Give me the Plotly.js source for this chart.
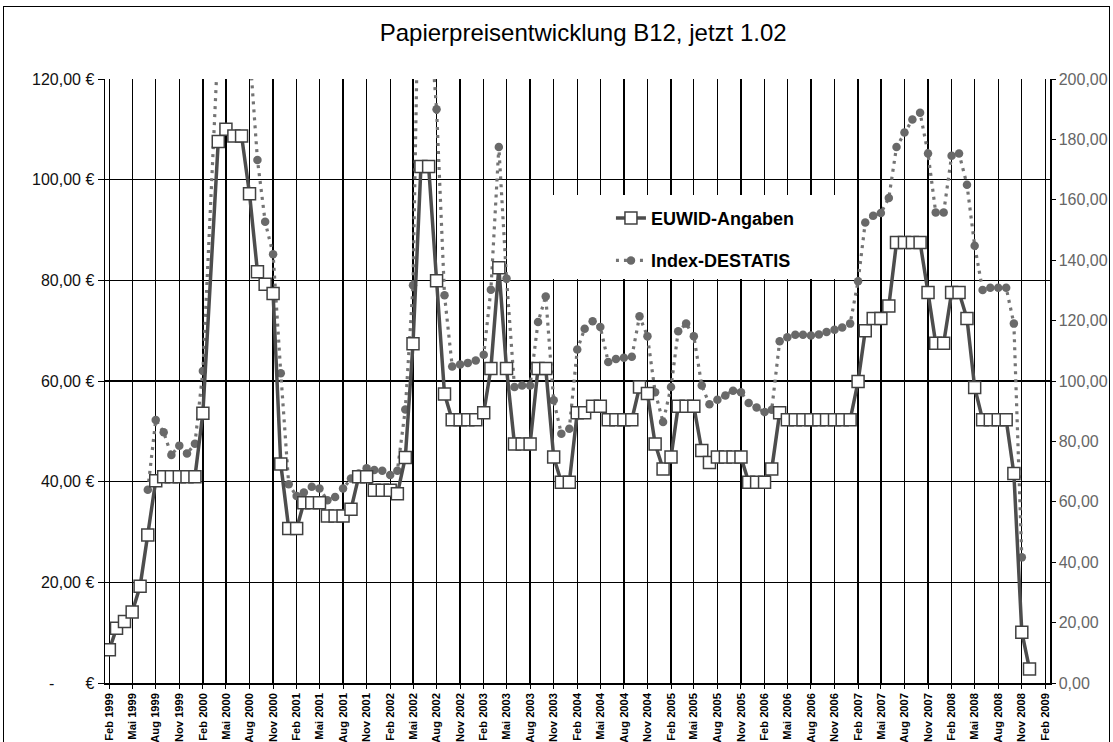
<!DOCTYPE html>
<html><head><meta charset="utf-8">
<script src="https://cdn.plot.ly/plotly-3.0.1.min.js"></script>
<style>
html,body{margin:0;padding:0;background:#fff;overflow:hidden}
#chart{position:absolute;left:0;top:0;width:1113px;height:742px}
#frame{position:absolute;left:3px;top:6px;width:1105px;height:760px;border:1px solid #000;pointer-events:none}
</style></head><body>
<div id="chart"></div><div id="frame"></div>
<script>
const titleText = 'Papierpreisentwicklung B12, jetzt 1.02';

const months = [
'1999-02-01','1999-03-01','1999-04-01','1999-05-01','1999-06-01','1999-07-01','1999-08-01','1999-09-01','1999-10-01','1999-11-01','1999-12-01',
'2000-01-01','2000-02-01','2000-04-01','2000-05-01','2000-06-01','2000-07-01','2000-08-01','2000-09-01','2000-10-01','2000-11-01','2000-12-01',
'2001-01-01','2001-02-01','2001-03-01','2001-04-01','2001-05-01','2001-06-01','2001-07-01','2001-08-01','2001-09-01','2001-10-01','2001-11-01','2001-12-01',
'2002-01-01','2002-02-01','2002-03-01','2002-04-01','2002-05-01','2002-06-01','2002-07-01','2002-08-01','2002-09-01','2002-10-01','2002-11-01','2002-12-01',
'2003-01-01','2003-02-01','2003-03-01','2003-04-01','2003-05-01','2003-06-01','2003-07-01','2003-08-01','2003-09-01','2003-10-01','2003-11-01','2003-12-01',
'2004-01-01','2004-02-01','2004-03-01','2004-04-01','2004-05-01','2004-06-01','2004-07-01','2004-08-01','2004-09-01','2004-10-01','2004-11-01','2004-12-01',
'2005-01-01','2005-02-01','2005-03-01','2005-04-01','2005-05-01','2005-06-01','2005-07-01','2005-08-01','2005-09-01','2005-10-01','2005-11-01','2005-12-01',
'2006-01-01','2006-02-01','2006-03-01','2006-04-01','2006-05-01','2006-06-01','2006-07-01','2006-08-01','2006-09-01','2006-10-01','2006-11-01','2006-12-01',
'2007-01-01','2007-02-01','2007-03-01','2007-04-01','2007-05-01','2007-06-01','2007-07-01','2007-08-01','2007-09-01','2007-10-01','2007-11-01','2007-12-01',
'2008-01-01','2008-02-01','2008-03-01','2008-04-01','2008-05-01','2008-06-01','2008-07-01','2008-08-01','2008-09-01','2008-10-01','2008-11-01','2008-12-01'
];

const euwidName = 'EUWID-Angaben';
const euwidValues = [
6.6, 10.9, 12.2, 14.1, 19.2, 29.4, 40.2, 41.0, 41.0, 41.0, 41.0,
41.0, 53.6, 107.6, 110.0, 108.7, 108.7, 97.2, 81.7, 79.2, 77.4, 43.5,
30.7, 30.7, 35.8, 35.8, 35.8, 33.2, 33.2, 33.2, 34.5, 41.0, 41.0, 38.3,
38.3, 38.3, 37.6, 44.8, 67.4, 102.6, 102.6, 79.9, 57.4, 52.3, 52.3, 52.3,
52.3, 53.7, 62.5, 82.5, 62.5, 47.5, 47.5, 47.5, 62.5, 62.5, 44.9, 39.9,
39.9, 53.7, 53.7, 55.0, 55.0, 52.3, 52.3, 52.3, 52.3, 58.8, 57.5, 47.5,
42.5, 44.9, 55.0, 55.0, 55.0, 46.2, 43.8, 44.9, 44.9, 44.9, 44.9, 39.9,
39.9, 39.9, 42.5, 53.7, 52.3, 52.3, 52.3, 52.3, 52.3, 52.3, 52.3, 52.3,
52.3, 59.9, 70.0, 72.4, 72.4, 74.9, 87.5, 87.5, 87.5, 87.5, 77.6, 67.5,
67.5, 77.6, 77.6, 72.4, 58.7, 52.3, 52.3, 52.3, 52.3, 41.6, 10.1, 2.8
];

const destatisName = 'Index-DESTATIS';
const destatisValues = [
null, null, null, null, null, 64.0, 87.1, 83.0, 75.5, 78.6, 76.0,
79.2, 103.3, 213, 240, 245, 230, 210, 173.2, 152.7, 142.0, 102.6,
65.8, 61.9, 63.1, 65.0, 64.4, 60.5, 61.6, 64.4, 67.7, 69.4, 71.1, 70.5,
70.3, 68.9, 70.3, 90.6, 131.7, 280, 225, 190, 128.4, 104.8, 105.5, 106.0,
106.8, 108.7, 130.2, 177.5, 133.9, 98.0, 98.5, 98.5, 119.5, 128.0, 93.6, 82.5,
84.2, 110.4, 117.3, 119.8, 117.9, 106.3, 107.3, 107.7, 108.0, 121.4, 114.8, 96.3,
86.4, 98.0, 116.5, 119.0, 114.8, 98.5, 92.3, 93.8, 95.2, 96.8, 96.3, 92.7,
91.2, 89.7, 90.5, 113.2, 114.5, 115.3, 115.3, 115.1, 115.4, 116.2, 117.0, 117.7,
119.0, 133.0, 152.5, 154.7, 155.6, 160.6, 177.5, 182.3, 186.6, 188.8, 175.3, 155.8,
155.8, 174.6, 175.3, 165.0, 144.8, 130.1, 130.9, 130.9, 130.9, 119.0, 41.6, null
];

const tickDates = [
'1999-02-01','1999-05-01','1999-08-01','1999-11-01','2000-02-01','2000-05-01','2000-08-01','2000-11-01',
'2001-02-01','2001-05-01','2001-08-01','2001-11-01','2002-02-01','2002-05-01','2002-08-01','2002-11-01',
'2003-02-01','2003-05-01','2003-08-01','2003-11-01','2004-02-01','2004-05-01','2004-08-01','2004-11-01',
'2005-02-01','2005-05-01','2005-08-01','2005-11-01','2006-02-01','2006-05-01','2006-08-01','2006-11-01',
'2007-02-01','2007-05-01','2007-08-01','2007-11-01','2008-02-01','2008-05-01','2008-08-01','2008-11-01',
'2009-02-01'
];
const tickLabels = [
'Feb 1999','Mai 1999','Aug 1999','Nov 1999','Feb 2000','Mai 2000','Aug 2000','Nov 2000',
'Feb 2001','Mai 2001','Aug 2001','Nov 2001','Feb 2002','Mai 2002','Aug 2002','Nov 2002',
'Feb 2003','Mai 2003','Aug 2003','Nov 2003','Feb 2004','Mai 2004','Aug 2004','Nov 2004',
'Feb 2005','Mai 2005','Aug 2005','Nov 2005','Feb 2006','Mai 2006','Aug 2006','Nov 2006',
'Feb 2007','Mai 2007','Aug 2007','Nov 2007','Feb 2008','Mai 2008','Aug 2008','Nov 2008',
'Feb 2009'
];

const leftTickVals = [0, 20, 40, 60, 80, 100, 120];
const leftTickLabels = ['-\u00a0\u00a0\u00a0\u00a0\u00a0\u00a0\u00a0€', '20,00 €', '40,00 €', '60,00 €', '80,00 €', '100,00 €', '120,00 €'];

const FONT = 'Liberation Sans, Arial, Helvetica, sans-serif';

const traces = [
  {
    x: months, y: euwidValues, name: euwidName, yaxis: 'y2', legendgroup: 'a',
    type: 'scatter', mode: 'lines+markers',
    line: {color: '#4d4d4d', width: 3.5},
    marker: {symbol: 'square', size: 12, color: '#ffffff', line: {color: '#404040', width: 1.5}}
  },
  {
    x: months, y: destatisValues, name: destatisName, yaxis: 'y', legendgroup: 'b',
    type: 'scatter', mode: 'lines+markers',
    line: {color: '#747474', width: 3.2, dash: '3px,5px'},
    marker: {symbol: 'circle', size: 8.5, color: '#696969'}
  }
];

const layout = {
  width: 1113, height: 742,
  margin: {l: 105, r: 63, t: 79, b: 59, pad: 0},
  paper_bgcolor: '#ffffff', plot_bgcolor: '#ffffff',
  separators: ',.',
  font: {family: FONT, color: '#000'},
  showlegend: true,
  title: {text: titleText, font: {family: FONT, size: 24, color: '#000'},
          x: 0.506, xref: 'paper', xanchor: 'center', y: 1 - 33/742, yref: 'container', yanchor: 'middle'},
  xaxis: {
    type: 'date', range: ['1999-01-15', '2009-02-19'],
    tickmode: 'array', tickvals: tickDates, ticktext: tickLabels, tickangle: -90,
    tickfont: {family: FONT, size: 11.2, weight: 'bold', color: '#000'},
    showgrid: true, gridcolor: '#000', gridwidth: 1.3,
    showline: true, linecolor: '#000', linewidth: 1.5,
    ticks: 'outside', ticklen: 4, tickcolor: '#000', zeroline: false
  },
  yaxis: {
    range: [0, 200], side: 'right', tickformat: '.2f', dtick: 20, tick0: 0,
    showgrid: false, zeroline: false,
    showline: true, linecolor: '#000', linewidth: 1.5,
    ticks: 'outside', ticklen: 4, tickcolor: '#000',
    tickfont: {family: FONT, size: 16, color: '#666'}
  },
  yaxis2: {
    overlaying: 'y', side: 'left', range: [0, 120],
    tickmode: 'array', tickvals: leftTickVals, ticktext: leftTickLabels,
    showgrid: true, gridcolor: '#000', gridwidth: 1.3, zeroline: false,
    showline: true, linecolor: '#000', linewidth: 1.5,
    ticks: 'outside', ticklen: 6, tickcolor: '#000',
    tickfont: {family: FONT, size: 16, color: '#111'}
  },
  legend: {
    x: 0.5354, xanchor: 'left', y: 0.80, yanchor: 'top',
    bgcolor: 'rgba(0,0,0,0)', borderwidth: 0,
    font: {family: FONT, size: 18, weight: 'bold', color: '#000'},
    traceorder: 'grouped', tracegroupgap: 16
  },
  shapes: [
    {type: 'rect', xref: 'paper', yref: 'paper', x0: 0.4698, x1: 0.7926, y0: 0.6689, y1: 0.808,
     fillcolor: '#ffffff', line: {width: 0}, layer: 'above'}
  ]
};

Plotly.newPlot('chart', traces, layout, {displayModeBar: false, staticPlot: true});
</script></body></html>
